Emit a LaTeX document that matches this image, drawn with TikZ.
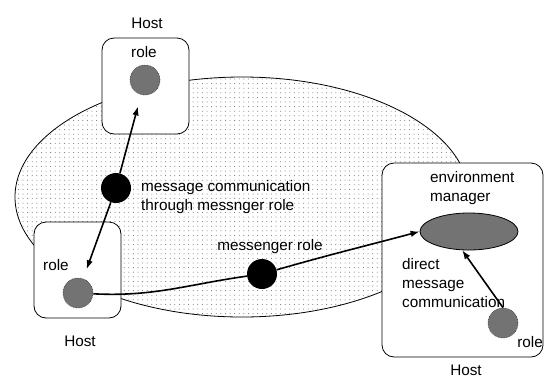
\documentclass[tikz,border=0pt]{standalone}
\usepackage{fontspec}
\setmainfont{Liberation Sans}
\usetikzlibrary{shapes.geometric,arrows.meta,patterns.meta}
\begin{document}
\begin{tikzpicture}[x=1pt,y=-1pt,
  font=\fontsize{15.3}{19}\selectfont,
  space/.style={ellipse, draw, line width=0.8pt, inner sep=0,
    minimum width=454pt, minimum height=240pt,
    pattern={Dots[distance=4.6pt, radius=0.5pt]}, pattern color=black!60},
  hostbox/.style={draw, fill=white, rounded corners=12pt, line width=0.8pt, inner sep=0},
  rolecirc/.style={circle, minimum size=30pt, inner sep=0, fill=black!55,
    draw=black!80, densely dotted, line width=0.6pt},
  msgr/.style={circle, minimum size=30pt, inner sep=0, fill=black},
  envmgr/.style={ellipse, minimum width=98pt, minimum height=37pt, inner sep=0,
    fill=black!55, draw, line width=0.8pt},
  conn/.style={line width=1.6pt, -{Latex[length=9pt,width=6.5pt]}},
  plain/.style={line width=1.6pt},
  lbl/.style={inner sep=0, anchor=base},
  blk/.style={inner sep=0, anchor=north west, align=left},
]
\useasboundingbox (0,0) rectangle (545,378);

% shared message space
\node[space] (sp) at (242,197) {};

% hosts
\node[hostbox, minimum width=87pt, minimum height=96pt] (htop) at (145.5,86) {};
\node[hostbox, minimum width=87pt, minimum height=96pt] (hleft) at (77.5,270) {};
\node[hostbox, minimum width=161pt, minimum height=194pt] (hright) at (462.5,260) {};

% labels
\node[lbl] (lhtop) at (147,28) {Host};
\node[lbl] (lrtop) at (144,57) {role};
\node[lbl] (lrleft) at (56,270) {role};
\node[lbl] (lhleft) at (80,346) {Host};
\node[lbl] (lmsgr) at (270,250) {messenger role};
\node[lbl] (lrright) at (530,347) {role};
\node[lbl] (lhright) at (466,375) {Host};
\node[blk] (lmc) at (141,180.5) {message communication\\through messnger role};
\node[blk] (lenv) at (430,171.5) {environment\\manager};
\node[blk] (ldir) at (402,258.5) {direct\\message\\communication};

% roles and messengers
\node[rolecirc] (rtop) at (145,80) {};
\node[rolecirc] (rleft) at (78,293) {};
\node[rolecirc] (rright) at (503,323) {};
\node[msgr] (c1) at (116,188) {};
\node[msgr] (c2) at (262,274) {};
\node[envmgr] (env) at (469,231.5) {};

% connectors
\draw[conn, shorten >=12pt] (c1) -- (rtop);
\draw[conn, shorten >=10pt] (c1) -- (rleft);
\draw[plain] (rleft) to[out=-3, in=188] (c2);
\draw[conn] (c2) to[out=16, in=195] (env.west);
\draw[conn] (rright.north) -- (env.-110);
\end{tikzpicture}
\end{document}
